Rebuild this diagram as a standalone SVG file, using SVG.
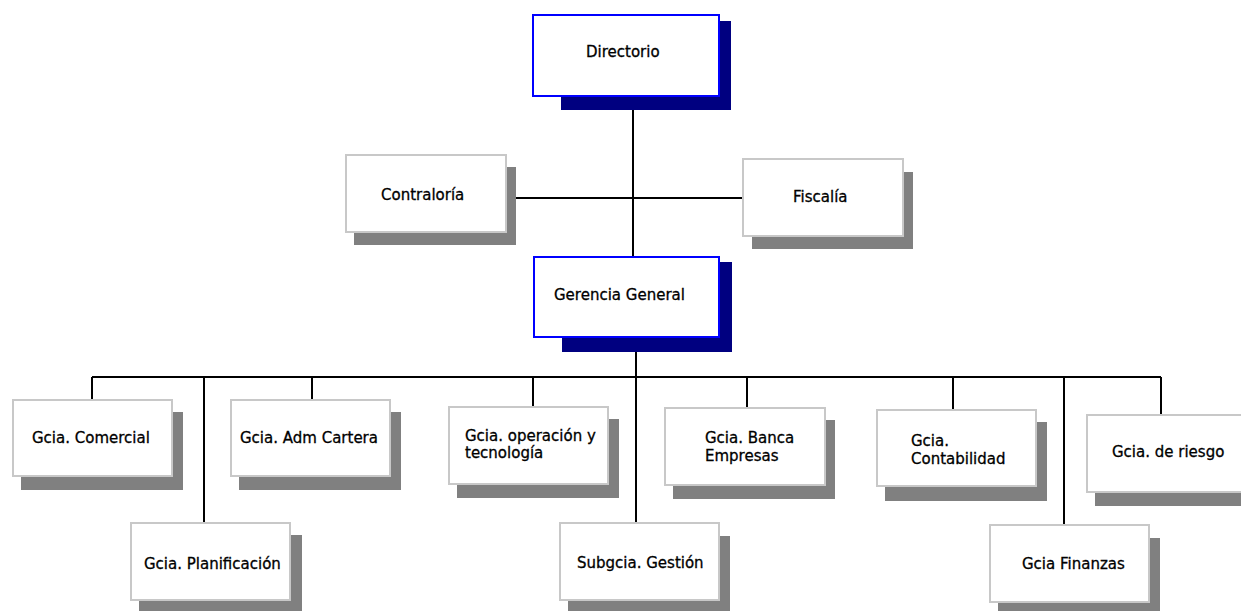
<svg xmlns="http://www.w3.org/2000/svg" width="1241" height="611" viewBox="0 0 1241 611">
<style>
.bg{fill:#ffffff}
.line{stroke:#000000;stroke-width:2;fill:none}
.sh{fill:#808080}
.shb{fill:#000080}
.box{fill:#ffffff;stroke:#c8c8c8;stroke-width:2}
.boxb{fill:#ffffff;stroke:#0000ff;stroke-width:2}
text{font-family:"DejaVu Sans","Verdana",sans-serif;font-size:15px;fill:#000000;stroke:#000000;stroke-width:0.3}
</style>
<rect class="bg" x="0" y="0" width="1241" height="611"/>
<g id="connectors">
<path class="line" d="M633 97V256"/>
<path class="line" d="M516 198H743"/>
<path class="line" d="M636 338V523"/>
<path class="line" d="M92 377H1161"/>
<path class="line" d="M92 377V399"/>
<path class="line" d="M204 377V523"/>
<path class="line" d="M312 377V399"/>
<path class="line" d="M533 377V407"/>
<path class="line" d="M747 377V408"/>
<path class="line" d="M953 377V409"/>
<path class="line" d="M1064 377V525"/>
<path class="line" d="M1161 377V415"/>
</g>
<g id="directorio">
<rect class="shb" x="561" y="21" width="170" height="89"/>
<rect class="boxb" x="533" y="15" width="186" height="81"/>
<text x="586" y="57">Directorio</text>
</g>
<g id="contraloria">
<rect class="sh" x="354" y="167" width="162" height="78"/>
<rect class="box" x="346" y="155" width="160" height="77"/>
<text x="381" y="200">Contraloría</text>
</g>
<g id="fiscalia">
<rect class="sh" x="752" y="172" width="161" height="77"/>
<rect class="box" x="743" y="159" width="160" height="77"/>
<text x="793" y="202">Fiscalía</text>
</g>
<g id="gerencia-general">
<rect class="shb" x="562" y="262" width="170" height="90"/>
<rect class="boxb" x="534" y="257" width="185" height="80"/>
<text x="554" y="300">Gerencia General</text>
</g>
<g id="gcia-comercial">
<rect class="sh" x="21" y="412" width="162" height="78"/>
<rect class="box" x="13" y="400" width="159" height="76"/>
<text x="32" y="443">Gcia. Comercial</text>
</g>
<g id="gcia-adm-cartera">
<rect class="sh" x="239" y="412" width="162" height="78"/>
<rect class="box" x="231" y="400" width="159" height="76"/>
<text x="240" y="443">Gcia. Adm Cartera</text>
</g>
<g id="gcia-operacion">
<rect class="sh" x="457" y="419" width="162" height="79"/>
<rect class="box" x="449" y="407" width="159" height="77"/>
<text x="465" y="441">Gcia. operación y</text>
<text x="465" y="458">tecnología</text>
</g>
<g id="gcia-banca">
<rect class="sh" x="673" y="420" width="162" height="79"/>
<rect class="box" x="665" y="408" width="160" height="77"/>
<text x="705" y="443">Gcia. Banca</text>
<text x="705" y="461">Empresas</text>
</g>
<g id="gcia-contabilidad">
<rect class="sh" x="885" y="422" width="162" height="79"/>
<rect class="box" x="877" y="410" width="159" height="76"/>
<text x="911" y="446">Gcia.</text>
<text x="911" y="464">Contabilidad</text>
</g>
<g id="gcia-riesgo">
<rect class="sh" x="1095" y="428" width="160" height="78"/>
<rect class="box" x="1087" y="415" width="165" height="77"/>
<text x="1112" y="457">Gcia. de riesgo</text>
</g>
<g id="gcia-planificacion">
<rect class="sh" x="139" y="535" width="163" height="80"/>
<rect class="box" x="131" y="523" width="159" height="77"/>
<text x="144" y="569">Gcia. Planificación</text>
</g>
<g id="subgcia-gestion">
<rect class="sh" x="568" y="536" width="162" height="79"/>
<rect class="box" x="560" y="523" width="159" height="77"/>
<text x="577" y="568">Subgcia. Gestión</text>
</g>
<g id="gcia-finanzas">
<rect class="sh" x="998" y="538" width="162" height="79"/>
<rect class="box" x="990" y="525" width="159" height="77"/>
<text x="1022" y="569">Gcia Finanzas</text>
</g>
</svg>
